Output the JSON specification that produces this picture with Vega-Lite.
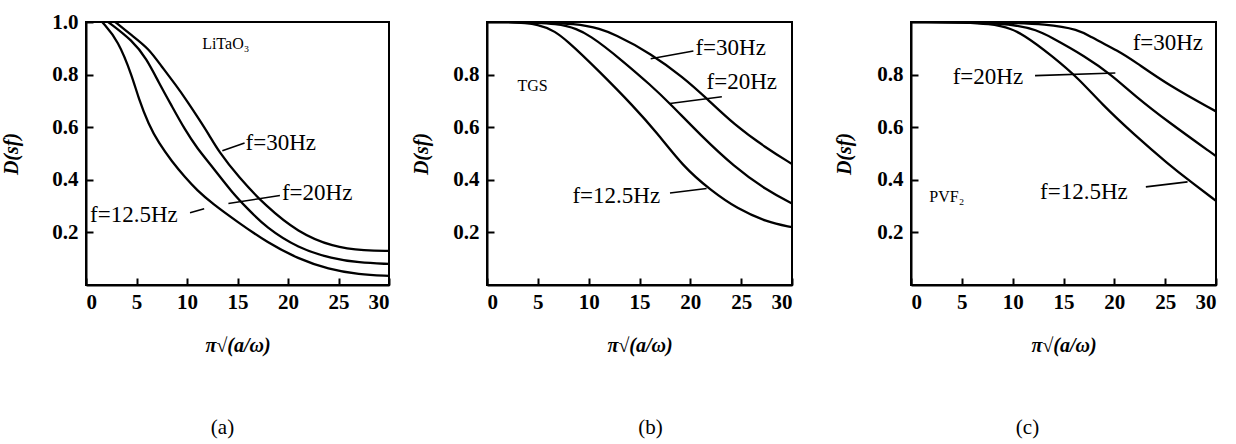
{
  "$schema": "https://vega.github.io/schema/vega-lite/v6.json",
  "background": "white",
  "padding": {"left": 0, "top": 10, "right": 5, "bottom": 5},
  "datasets": {
    "curves": [
      {"panel":"a","f":"12.5","x":1.6,"y":1.0},{"panel":"a","f":"12.5","x":3.2,"y":0.93},{"panel":"a","f":"12.5","x":4.6,"y":0.79},{"panel":"a","f":"12.5","x":5.2,"y":0.71},{"panel":"a","f":"12.5","x":6.2,"y":0.61},{"panel":"a","f":"12.5","x":7.2,"y":0.54},{"panel":"a","f":"12.5","x":8.5,"y":0.47},{"panel":"a","f":"12.5","x":9.8,"y":0.41},{"panel":"a","f":"12.5","x":11,"y":0.36},{"panel":"a","f":"12.5","x":12.5,"y":0.31},{"panel":"a","f":"12.5","x":15,"y":0.24},{"panel":"a","f":"12.5","x":18,"y":0.16},{"panel":"a","f":"12.5","x":21,"y":0.10},{"panel":"a","f":"12.5","x":24,"y":0.06},{"panel":"a","f":"12.5","x":27,"y":0.04},{"panel":"a","f":"12.5","x":30,"y":0.035},
      {"panel":"a","f":"20","x":2.2,"y":1.0},{"panel":"a","f":"20","x":4.6,"y":0.93},{"panel":"a","f":"20","x":6,"y":0.86},{"panel":"a","f":"20","x":7.2,"y":0.77},{"panel":"a","f":"20","x":8.5,"y":0.68},{"panel":"a","f":"20","x":9.8,"y":0.59},{"panel":"a","f":"20","x":11,"y":0.52},{"panel":"a","f":"20","x":12.5,"y":0.45},{"panel":"a","f":"20","x":14.5,"y":0.35},{"panel":"a","f":"20","x":16,"y":0.29},{"panel":"a","f":"20","x":17.8,"y":0.22},{"panel":"a","f":"20","x":21,"y":0.14},{"panel":"a","f":"20","x":24.4,"y":0.10},{"panel":"a","f":"20","x":27,"y":0.085},{"panel":"a","f":"20","x":30,"y":0.08},
      {"panel":"a","f":"30","x":2.9,"y":1.0},{"panel":"a","f":"30","x":4.5,"y":0.95},{"panel":"a","f":"30","x":6.2,"y":0.90},{"panel":"a","f":"30","x":7.5,"y":0.83},{"panel":"a","f":"30","x":8.9,"y":0.76},{"panel":"a","f":"30","x":10,"y":0.70},{"panel":"a","f":"30","x":11.2,"y":0.63},{"panel":"a","f":"30","x":12.2,"y":0.57},{"panel":"a","f":"30","x":13.1,"y":0.51},{"panel":"a","f":"30","x":15.1,"y":0.41},{"panel":"a","f":"30","x":17.8,"y":0.30},{"panel":"a","f":"30","x":21,"y":0.20},{"panel":"a","f":"30","x":24.4,"y":0.145},{"panel":"a","f":"30","x":27.7,"y":0.13},{"panel":"a","f":"30","x":30,"y":0.13},
      {"panel":"b","f":"12.5","x":0,"y":1.0},{"panel":"b","f":"12.5","x":5.5,"y":1.0},{"panel":"b","f":"12.5","x":7.9,"y":0.93},{"panel":"b","f":"12.5","x":11.1,"y":0.81},{"panel":"b","f":"12.5","x":14.4,"y":0.68},{"panel":"b","f":"12.5","x":16.7,"y":0.58},{"panel":"b","f":"12.5","x":19.3,"y":0.45},{"panel":"b","f":"12.5","x":22,"y":0.36},{"panel":"b","f":"12.5","x":24.6,"y":0.29},{"panel":"b","f":"12.5","x":27.5,"y":0.24},{"panel":"b","f":"12.5","x":30,"y":0.22},
      {"panel":"b","f":"20","x":0,"y":1.0},{"panel":"b","f":"20","x":7.5,"y":1.0},{"panel":"b","f":"20","x":10.2,"y":0.95},{"panel":"b","f":"20","x":13.4,"y":0.85},{"panel":"b","f":"20","x":16.1,"y":0.76},{"panel":"b","f":"20","x":18,"y":0.69},{"panel":"b","f":"20","x":21,"y":0.57},{"panel":"b","f":"20","x":24.3,"y":0.45},{"panel":"b","f":"20","x":27.5,"y":0.36},{"panel":"b","f":"20","x":30,"y":0.31},
      {"panel":"b","f":"30","x":0,"y":1.0},{"panel":"b","f":"30","x":9.5,"y":1.0},{"panel":"b","f":"30","x":12.8,"y":0.95},{"panel":"b","f":"30","x":16.1,"y":0.88},{"panel":"b","f":"30","x":19.3,"y":0.79},{"panel":"b","f":"30","x":21.6,"y":0.71},{"panel":"b","f":"30","x":24.3,"y":0.61},{"panel":"b","f":"30","x":27.5,"y":0.52},{"panel":"b","f":"30","x":30,"y":0.46},
      {"panel":"c","f":"12.5","x":0,"y":1.0},{"panel":"c","f":"12.5","x":8.6,"y":1.0},{"panel":"c","f":"12.5","x":11.2,"y":0.95},{"panel":"c","f":"12.5","x":13.9,"y":0.87},{"panel":"c","f":"12.5","x":16.5,"y":0.785},{"panel":"c","f":"12.5","x":18.7,"y":0.69},{"panel":"c","f":"12.5","x":22,"y":0.57},{"panel":"c","f":"12.5","x":25.3,"y":0.46},{"panel":"c","f":"12.5","x":27.6,"y":0.39},{"panel":"c","f":"12.5","x":30,"y":0.32},
      {"panel":"c","f":"20","x":0,"y":1.0},{"panel":"c","f":"20","x":10.9,"y":1.0},{"panel":"c","f":"20","x":13.9,"y":0.94},{"panel":"c","f":"20","x":17.1,"y":0.87},{"panel":"c","f":"20","x":19.7,"y":0.80},{"panel":"c","f":"20","x":22,"y":0.72},{"panel":"c","f":"20","x":25.3,"y":0.62},{"panel":"c","f":"20","x":30,"y":0.49},
      {"panel":"c","f":"30","x":0,"y":1.0},{"panel":"c","f":"30","x":15.2,"y":1.0},{"panel":"c","f":"30","x":17.8,"y":0.94},{"panel":"c","f":"30","x":20.4,"y":0.89},{"panel":"c","f":"30","x":22,"y":0.85},{"panel":"c","f":"30","x":25.3,"y":0.76},{"panel":"c","f":"30","x":30,"y":0.66}
    ],
    "labels": [
      {"panel":"a","kind":"name","x":11.5,"y":0.915,"text":"LiTaO₃"},
      {"panel":"a","kind":"f","x":15.8,"y":0.54,"text":"f=30Hz"},
      {"panel":"a","kind":"f","x":19.4,"y":0.35,"text":"f=20Hz"},
      {"panel":"a","kind":"f","x":0.4,"y":0.265,"text":"f=12.5Hz"},
      {"panel":"b","kind":"name","x":3.0,"y":0.755,"text":"TGS"},
      {"panel":"b","kind":"f","x":20.5,"y":0.90,"text":"f=30Hz"},
      {"panel":"b","kind":"f","x":21.6,"y":0.77,"text":"f=20Hz"},
      {"panel":"b","kind":"f","x":8.4,"y":0.34,"text":"f=12.5Hz"},
      {"panel":"c","kind":"name","x":1.8,"y":0.335,"text":"PVF₂"},
      {"panel":"c","kind":"f","x":21.8,"y":0.92,"text":"f=30Hz"},
      {"panel":"c","kind":"f","x":4.1,"y":0.79,"text":"f=20Hz"},
      {"panel":"c","kind":"f","x":12.7,"y":0.355,"text":"f=12.5Hz"}
    ],
    "leaders": [
      {"panel":"a","x":13.5,"y":0.51,"x2":15.7,"y2":0.54},
      {"panel":"a","x":14.1,"y":0.31,"x2":19.2,"y2":0.34},
      {"panel":"a","x":10.3,"y":0.275,"x2":11.7,"y2":0.29},
      {"panel":"b","x":16.1,"y":0.86,"x2":20.3,"y2":0.89},
      {"panel":"b","x":18.0,"y":0.69,"x2":23.1,"y2":0.716},
      {"panel":"b","x":18.0,"y":0.35,"x2":21.6,"y2":0.367},
      {"panel":"c","x":12.2,"y":0.796,"x2":20.1,"y2":0.806},
      {"panel":"c","x":23.1,"y":0.373,"x2":27.2,"y2":0.392}
    ]
  },
  "bounds": "flush",
  "spacing": 98,
  "hconcat": [
    {
      "width": 303, "height": 263,
      "title": {"text": "(a)", "orient": "bottom", "offset": 62, "dx": -15},
      "layer": [
        {"data": {"name": "curves"}, "transform": [{"filter": "datum.panel === 'a'"}],
         "mark": {"type": "line", "color": "black", "strokeWidth": 2.3, "interpolate": "basis", "clip": true},
         "encoding": {
           "x": {"field": "x", "type": "quantitative", "scale": {"domain": [0, 30], "nice": false},
                 "axis": {"values": [0,5,10,15,20,25,30], "title": "π√(a/ω)"}},
           "y": {"field": "y", "type": "quantitative", "scale": {"domain": [0, 1], "nice": false},
                 "axis": {"values": [0.2,0.4,0.6,0.8,1.0], "format": ".1f", "title": "D(sf)", "titlePadding": 30}},
           "detail": {"field": "f"}
         }},
        {"data": {"name": "leaders"}, "transform": [{"filter": "datum.panel === 'a'"}],
         "mark": {"type": "rule", "color": "black", "strokeWidth": 1.6},
         "encoding": {"x": {"field": "x", "type": "quantitative"}, "y": {"field": "y", "type": "quantitative"},
                      "x2": {"field": "x2"}, "y2": {"field": "y2"}}},
        {"data": {"name": "labels"}, "transform": [{"filter": "datum.panel === 'a'"}],
         "mark": {"type": "text", "align": "left", "baseline": "middle", "font": "Liberation Serif", "color": "black"},
         "encoding": {"x": {"field": "x", "type": "quantitative"}, "y": {"field": "y", "type": "quantitative"},
                      "text": {"field": "text"},
                      "size": {"condition": {"test": "datum.kind === 'name'", "value": 16}, "value": 23}}}
      ]
    },
    {
      "bounds": "flush",
      "spacing": 119,
      "hconcat": [
        {
          "width": 305, "height": 263,
          "title": {"text": "(b)", "orient": "bottom", "offset": 62, "dx": 11},
          "layer": [
            {"data": {"name": "curves"}, "transform": [{"filter": "datum.panel === 'b'"}],
             "mark": {"type": "line", "color": "black", "strokeWidth": 2.3, "interpolate": "basis", "clip": true},
             "encoding": {
               "x": {"field": "x", "type": "quantitative", "scale": {"domain": [0, 30], "nice": false},
                     "axis": {"values": [0,5,10,15,20,25,30], "title": "π√(a/ω)"}},
               "y": {"field": "y", "type": "quantitative", "scale": {"domain": [0, 1], "nice": false},
                     "axis": {"values": [0.2,0.4,0.6,0.8], "format": ".1f", "title": "D(sf)", "titlePadding": 21}},
               "detail": {"field": "f"}
             }},
            {"data": {"name": "leaders"}, "transform": [{"filter": "datum.panel === 'b'"}],
             "mark": {"type": "rule", "color": "black", "strokeWidth": 1.6},
             "encoding": {"x": {"field": "x", "type": "quantitative"}, "y": {"field": "y", "type": "quantitative"},
                          "x2": {"field": "x2"}, "y2": {"field": "y2"}}},
            {"data": {"name": "labels"}, "transform": [{"filter": "datum.panel === 'b'"}],
             "mark": {"type": "text", "align": "left", "baseline": "middle", "font": "Liberation Serif", "color": "black"},
             "encoding": {"x": {"field": "x", "type": "quantitative"}, "y": {"field": "y", "type": "quantitative"},
                          "text": {"field": "text"},
                          "size": {"condition": {"test": "datum.kind === 'name'", "value": 16}, "value": 23}}}
          ]
        },
        {
          "width": 305, "height": 263,
          "title": {"text": "(c)", "orient": "bottom", "offset": 62, "dx": -36},
          "layer": [
            {"data": {"name": "curves"}, "transform": [{"filter": "datum.panel === 'c'"}],
             "mark": {"type": "line", "color": "black", "strokeWidth": 2.3, "interpolate": "basis", "clip": true},
             "encoding": {
               "x": {"field": "x", "type": "quantitative", "scale": {"domain": [0, 30], "nice": false},
                     "axis": {"values": [0,5,10,15,20,25,30], "title": "π√(a/ω)"}},
               "y": {"field": "y", "type": "quantitative", "scale": {"domain": [0, 1], "nice": false},
                     "axis": {"values": [0.2,0.4,0.6,0.8], "format": ".1f", "title": "D(sf)", "titlePadding": 22}},
               "detail": {"field": "f"}
             }},
            {"data": {"name": "leaders"}, "transform": [{"filter": "datum.panel === 'c'"}],
             "mark": {"type": "rule", "color": "black", "strokeWidth": 1.6},
             "encoding": {"x": {"field": "x", "type": "quantitative"}, "y": {"field": "y", "type": "quantitative"},
                          "x2": {"field": "x2"}, "y2": {"field": "y2"}}},
            {"data": {"name": "labels"}, "transform": [{"filter": "datum.panel === 'c'"}],
             "mark": {"type": "text", "align": "left", "baseline": "middle", "font": "Liberation Serif", "color": "black"},
             "encoding": {"x": {"field": "x", "type": "quantitative"}, "y": {"field": "y", "type": "quantitative"},
                          "text": {"field": "text"},
                          "size": {"condition": {"test": "datum.kind === 'name'", "value": 16}, "value": 23}}}
          ]
        }
      ]
    }
  ],
  "config": {
    "view": {"stroke": "black", "strokeWidth": 2},
    "axis": {
      "grid": false, "domainColor": "black", "domainWidth": 2,
      "tickColor": "black", "tickWidth": 2, "tickSize": -7,
      "labelFont": "Liberation Serif", "labelFontWeight": "bold", "labelFontSize": 21, "labelColor": "black", "labelPadding": 15,
      "titleFont": "Liberation Serif", "titleFontWeight": "bold", "titleFontStyle": "italic", "titleFontSize": 20, "titleColor": "black"
    },
    "axisX": {"titlePadding": 23, "labelPadding": 13},
    "title": {"font": "Liberation Serif", "fontSize": 21, "fontWeight": "normal", "color": "black"}
  }
}
